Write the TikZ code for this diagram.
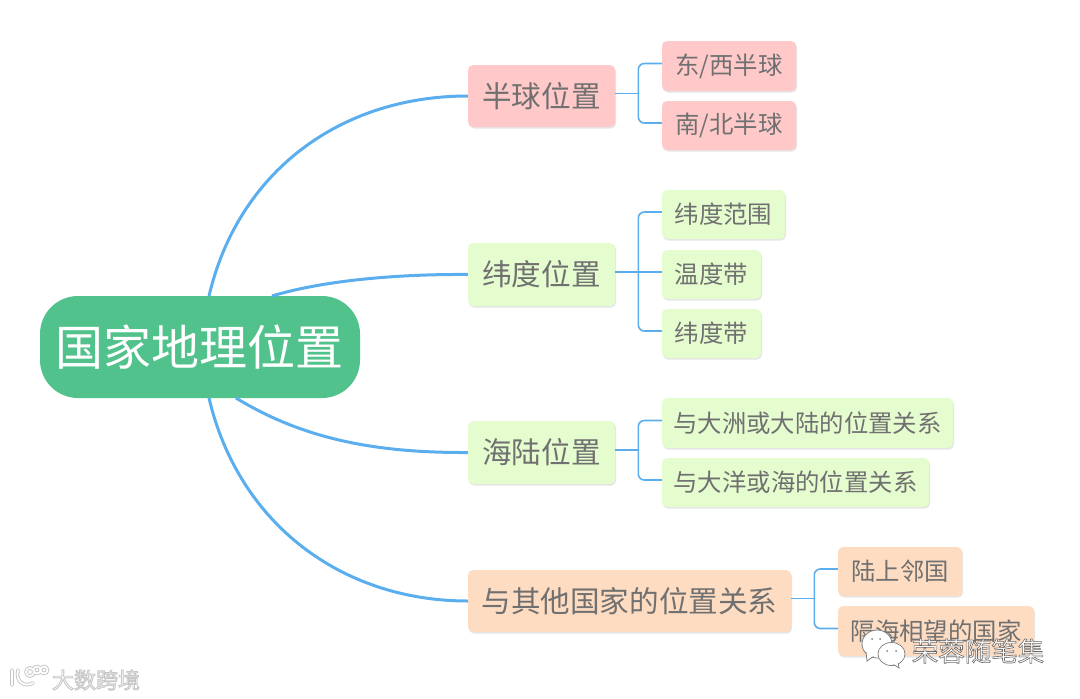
\documentclass[tikz,border=0pt]{standalone}
\usepackage{fontspec}
\setmainfont{Noto Sans CJK SC}
\usetikzlibrary{shadows,calc}
\definecolor{rootc}{HTML}{52C28C}
\definecolor{pinkc}{HTML}{FFC9C9}
\definecolor{greenc}{HTML}{E5FCCF}
\definecolor{orangec}{HTML}{FDDCC2}
\definecolor{linec}{HTML}{5AAEEE}
\definecolor{textc}{HTML}{707070}
\definecolor{markc}{HTML}{808080}
\definecolor{glowc}{HTML}{C4C4C4}
\newcommand{\boxnode}[7]{% name style x1 y1 x2 y2 text
  \node[#2,minimum width={#5-#3},minimum height={#6-#4}] (#1) at ({(#3+#5)/2},{(#4+#6)/2}) {\raisebox{-2pt}{#7}};}
% text filled white and stroked grey: #1 stroke width, #2 stroke grey level, #3 text
\newcommand{\outlined}[3]{\special{pdf:code q 2 Tr #1 w #2 G 1 g}#3\special{pdf:code Q}}
\tikzset{
  x=1pt,y=-1pt,
  basebox/.style={rectangle,rounded corners=5pt,inner sep=0pt,text=textc,
    drop shadow={shadow xshift=1pt,shadow yshift=-1.5pt,fill=black,opacity=.10}},
  mainbox/.style={basebox,font=\fontsize{29.6}{30}\selectfont},
  subbox/.style={basebox,font=\fontsize{24.4}{25}\selectfont},
  pinkmain/.style={mainbox,fill=pinkc},
  pinksub/.style={subbox,fill=pinkc},
  greenmain/.style={mainbox,fill=greenc},
  greensub/.style={subbox,fill=greenc},
  orangemain/.style={mainbox,fill=orangec},
  orangesub/.style={subbox,fill=orangec},
  rootbox/.style={rectangle,rounded corners=38pt,inner sep=0pt,fill=rootc,text=white,font=\fontsize{48}{48}\selectfont},
  bigline/.style={draw=linec,line width=3pt},
  smallline/.style={draw=linec,line width=1.6pt,rounded corners=6pt},
  marktext/.style={text=white,inner sep=0pt},
  logoglow/.style={draw=glowc,line width=3.6pt,line cap=round},
  logoline/.style={draw=white,line width=1.8pt,line cap=round},
  bubble/.style={draw=markc,fill=white,line width=.8pt},
  eye/.style={fill=markc},
}
\newcommand{\bracket}[3]{% parent, first child, last child
  \draw[smallline] ([yshift=2.5pt]#1.east) -- ++(23.5,0);
  \draw[smallline] ([yshift=2.5pt]#2.west) -- ++(-23.5,0) |- ([yshift=2.5pt]#3.west);
}
\newcommand{\logoshape}{
  (12,670) -- (12,685)
  (18,670) .. controls (15,681) and (24,688) .. (33,683)
  (30,672) circle (4)
  (37,670) circle (3.5)
  (44,670) circle (3.5)
}
\begin{document}
\begin{tikzpicture}
\useasboundingbox (0,0) rectangle (1080,699);
\coordinate (r1) at (209,296);
\coordinate (r2) at (272,296);
\coordinate (r3) at (236,398);
\coordinate (r4) at (209,398);
\boxnode{root}{rootbox}{40}{296}{360}{398}{国家地理位置}
\boxnode{a}{pinkmain}{468}{65}{615}{127}{半球位置}
\boxnode{a1}{pinksub}{662}{41}{796}{91}{东/西半球}
\boxnode{a2}{pinksub}{662}{101}{796}{150}{南/北半球}
\boxnode{b}{greenmain}{468}{243}{615}{306}{纬度位置}
\boxnode{b1}{greensub}{662}{190}{785}{239}{纬度范围}
\boxnode{b2}{greensub}{662}{250}{761}{299}{温度带}
\boxnode{b3}{greensub}{662}{309}{761}{358}{纬度带}
\boxnode{c}{greenmain}{468}{421}{615}{484}{海陆位置}
\boxnode{c1}{greensub}{662}{398}{953}{448}{与大洲或大陆的位置关系}
\boxnode{c2}{greensub}{662}{458}{929}{507}{与大洋或海的位置关系}
\boxnode{d}{orangemain}{468}{570}{791}{632}{与其他国家的位置关系}
\boxnode{d1}{orangesub}{838}{547}{962}{596}{陆上邻国}
\boxnode{d2}{orangesub}{838}{606}{1034}{656}{隔海相望的国家}
\draw[bigline] (r1) .. controls (238,172) and (340,96) .. (a.west);
\draw[bigline] (r2) .. controls (325,280) and (400,274) .. (b.west);
\draw[bigline] (r3) .. controls (300,437) and (370,453) .. (c.west);
\draw[bigline] (r4) .. controls (238,522) and (340,601) .. (d.west);
\bracket{a}{a1}{a2}
\bracket{b}{b1}{b3}
\draw[smallline] ([yshift=2.5pt]b2.west) -- ([xshift=-23.5pt,yshift=2.5pt]b2.west);
\bracket{c}{c1}{c2}
\bracket{d}{d1}{d2}
% watermark, lower right
\filldraw[bubble] (877,644) ellipse (15 and 14);
\filldraw[bubble] (866,652) -- (867,661) -- (874,656) -- cycle;
\path[fill=white] (877,644) ellipse (14 and 13);
\filldraw[bubble] (891.5,654) ellipse (13.5 and 11.5);
\filldraw[bubble] (893,664) -- (899,668) -- (898,661) -- cycle;
\path[fill=white] (891.5,654) ellipse (12.8 and 10.8);
\foreach \ex/\ey in {872/639,880/639,887/651,896/651} \fill[eye] (\ex,\ey) circle (1);
\node[marktext,font=\fontsize{26.5}{26.5}\selectfont] (wm) at (978,651) {\outlined{0.6}{0.42}{荣蓉随笔集}};
% watermark, lower left
\draw[logoglow] \logoshape;
\draw[logoline] \logoshape;
\node[marktext,font=\fontsize{22}{22}\selectfont] (wl) at (96,680) {\outlined{0.9}{0.78}{大数跨境}};
\end{tikzpicture}
\end{document}
